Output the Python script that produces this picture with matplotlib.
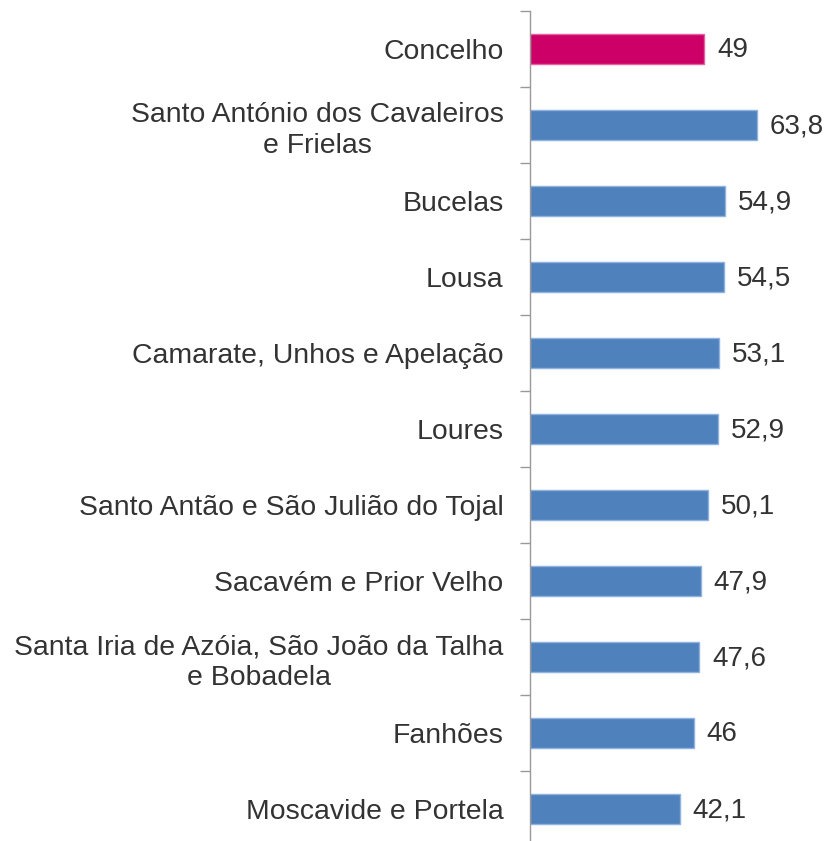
import matplotlib
matplotlib.use("Agg")
import matplotlib.pyplot as plt
from matplotlib.ticker import FixedLocator

categories = [
    "Concelho",
    "Santo António dos Cavaleiros\ne Frielas",
    "Bucelas",
    "Lousa",
    "Camarate, Unhos e Apelação",
    "Loures",
    "Santo Antão e São Julião do Tojal",
    "Sacavém e Prior Velho",
    "Santa Iria de Azóia, São João da Talha\ne Bobadela",
    "Fanhões",
    "Moscavide e Portela",
]
values = [49, 63.8, 54.9, 54.5, 53.1, 52.9, 50.1, 47.9, 47.6, 46, 42.1]
colors = ["#CC0066"] + ["#4F81BD"] * (len(values) - 1)
edges = ["#E8609F"] + ["#8FB2DE"] * (len(values) - 1)

plt.rcParams["font.family"] = ["Liberation Sans", "DejaVu Sans"]
text_color = "#333333"

W, H = 829, 841
fig = plt.figure(figsize=(W / 100, H / 100), dpi=100)
x0, top, step = 530, 11, 76
n = len(categories)
bottom_px = top + step * n
ax = fig.add_axes([x0 / W, (H - bottom_px) / H, (W - x0) / W, (bottom_px - top) / H])

pos = list(range(n))
ax.barh(pos, values, height=0.4, color=colors, edgecolor=edges, linewidth=1)
ax.set_ylim(n - 0.5, -0.5)
ax.set_xlim(0, (W - x0) / 3.56)

ax.set_yticks(pos)
ax.set_yticklabels(categories, fontsize=20.4, color=text_color,
                   multialignment="center", linespacing=1.25)
ax.tick_params(axis="y", which="major", length=0, pad=19)
ax.yaxis.set_minor_locator(FixedLocator([i - 0.5 for i in range(n)]))
ax.tick_params(axis="y", which="minor", length=7, width=1, color="#999999")

ax.set_xticks([])
for s in ["top", "right", "bottom"]:
    ax.spines[s].set_visible(False)
ax.spines["left"].set_color("#999999")
ax.spines["left"].set_linewidth(1)

for i, v in enumerate(values):
    label = f"{v:g}".replace(".", ",")
    ax.annotate(label, (v, i), xytext=(9, -1), textcoords="offset points",
                va="center", ha="left", fontsize=20, color=text_color)

fig.savefig("out.png", dpi=100)
